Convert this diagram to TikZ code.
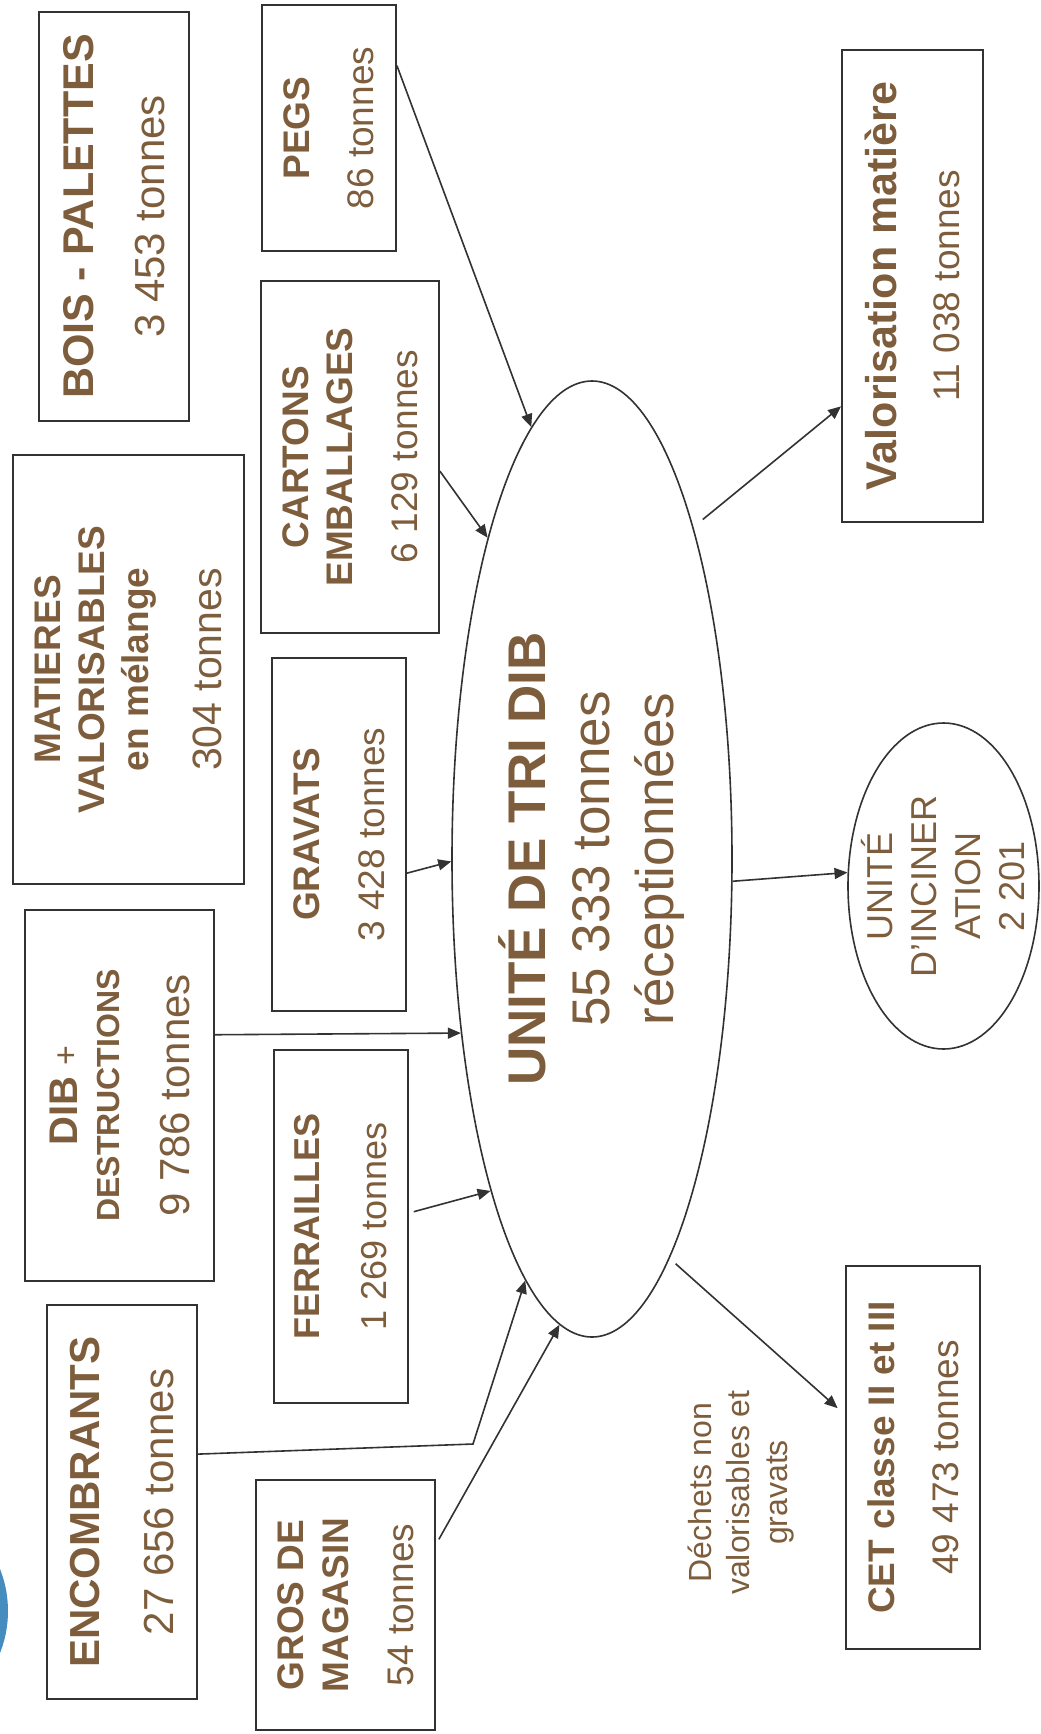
\documentclass[tikz,border=0pt]{standalone}
\usepackage{fontspec}
\setmainfont{Liberation Sans}
\usetikzlibrary{arrows.meta,calc,shapes.geometric}
\definecolor{textebrun}{RGB}{125,93,60}
\definecolor{traitgris}{RGB}{50,50,50}
\definecolor{bleuscan}{RGB}{70,140,190}
\newcommand{\taille}[2]{\fontsize{#1}{#2}\selectfont}
\tikzset{
  boite/.style={draw=traitgris, line width=0.9pt, rotate=90, align=center,
    inner sep=0pt, text=textebrun},
  ovale/.style={draw=traitgris, line width=0.8pt, ellipse, rotate=90,
    inner sep=0pt, align=center, text=textebrun},
  fleche/.style={draw=traitgris, line width=0.8pt,
    -{Triangle[length=6.5pt,width=5.5pt]}},
}

\begin{document}
\begin{tikzpicture}[x=0.5pt,y=-0.5pt]
      \fill[white] (0,0) rectangle (1040,1734);
      \useasboundingbox (0,0) rectangle (1040,1734);
      \fill[bleuscan] (-106,1611) circle[radius=114];
      % apports
      \node[boite, minimum width=204.5pt, minimum height=75pt, font=\taille{21}{35.5}] (bois) at (114,216.5)
        {{\bfseries\taille{21.5}{35.5}BOIS - PALETTES}\\3 453 tonnes};
      \node[boite, minimum width=123pt, minimum height=67pt, font=\taille{18.5}{32}] (pegs) at (329,128)
        {{\bfseries PEGS}\\86 tonnes};
      \node[boite, minimum width=176pt, minimum height=89pt, font=\taille{18.5}{22}] (cartons) at (350,457)
        {{\bfseries CARTONS}\\{\bfseries EMBALLAGES}\\[10.5pt]6 129 tonnes};
      \node[boite, minimum width=214.5pt, minimum height=115.5pt, font=\taille{20.5}{22}] (matieres) at (128.5,669.5)
        {{\bfseries\taille{18.5}{22}MATIERES}\\{\bfseries\taille{18.5}{22}VALORISABLES}\\{\bfseries\taille{18.5}{22}en mélange}\\[14.5pt]304 tonnes};
      \node[boite, minimum width=176.5pt, minimum height=67pt, font=\taille{18.5}{32.5}] (gravats) at (339,834.5)
        {{\bfseries GRAVATS}\\3 428 tonnes};
      \node[boite, minimum width=185.5pt, minimum height=94.5pt, font=\taille{21}{21}] (dib) at (119.5,1095.5)
        {{\bfseries\taille{20}{21}DIB {\mdseries\taille{17}{17}+}}\\{\bfseries\taille{16}{21}DESTRUCTIONS}\\[14pt]9 786 tonnes};
      \node[boite, minimum width=176.5pt, minimum height=67pt, font=\taille{18}{33.5}] (ferrailles) at (341,1226.5)
        {{\bfseries FERRAILLES}\\1 269 tonnes};
      \node[boite, minimum width=197pt, minimum height=75pt, font=\taille{21}{37}] (encombrants) at (122,1502)
        {{\bfseries ENCOMBRANTS}\\27 656 tonnes};
      \node[boite, minimum width=125pt, minimum height=89.5pt, font=\taille{18.5}{22.5}] (gros) at (345.5,1605)
        {{\bfseries GROS DE}\\{\bfseries MAGASIN}\\[10pt]54 tonnes};
      % unite de tri
      \node[ovale, minimum width=478pt, minimum height=140pt, font=\taille{26.5}{32}] (tri) at (592,859)
        {{\bfseries UNITÉ DE TRI DIB}\\55 333 tonnes\\réceptionnées};
      % destinations
      \node[boite, minimum width=236pt, minimum height=70.5pt, font=\taille{18.5}{31.5}] (valo) at (912.5,286)
        {{\bfseries\taille{21.5}{31.5}Valorisation matière}\\11 038 tonnes};
      \node[ovale, minimum width=163pt, minimum height=95.5pt] (incin) at (943.5,886) {};
      \node[rotate=90, align=center, text=textebrun, font=\taille{18}{22}] (incintxt) at (incin)
        {UNITÉ\\D'INCINER\\ATION\\2 201};
      \node[boite, minimum width=191.5pt, minimum height=67pt, font=\taille{18.5}{32}] (cet) at (913,1457.5)
        {{\bfseries CET classe II et III}\\49 473 tonnes};
      \node[rotate=90, align=center, text=textebrun, font=\taille{16}{19}] (dechets) at (741,1492.5)
        {Déchets non\\valorisables et\\gravats};
      \coordinate (coude) at (473,1444);
      % fleches
      \draw[fleche] ($(pegs.south east)!0.248!(pegs.south west)$) -- (tri.8.6);
      \draw[fleche] ($(cartons.south east)!0.54!(cartons.south west)$) -- (tri.18.6);
      \draw[fleche] ($(gravats.south east)!0.609!(gravats.south west)$) -- (tri.91.6);
      \draw[fleche] ($(dib.south east)!0.337!(dib.south west)$) -- (tri.143);
      \draw[fleche, shorten <=2.5pt] ($(ferrailles.south east)!0.462!(ferrailles.south west)$) -- (tri.163.1);
      \draw[fleche] ($(encombrants.south east)!0.379!(encombrants.south west)$) -- (coude) -- (tri.171.8);
      \draw[fleche, shorten <=3pt] ($(gros.south east)!0.26!(gros.south west)$) -- (tri.176.8);
      \draw[fleche, shorten <=6pt] (tri.-17.6) -- ($(valo.north east)!0.754!(valo.north west)$);
      \draw[fleche] (tri.-99.7) -- (incin.82.2);
      \draw[fleche, shorten <=4pt, shorten >=5pt] (tri.-169.7) -- ($(cet.north east)!0.389!(cet.north west)$);
    \end{tikzpicture}
\end{document}
